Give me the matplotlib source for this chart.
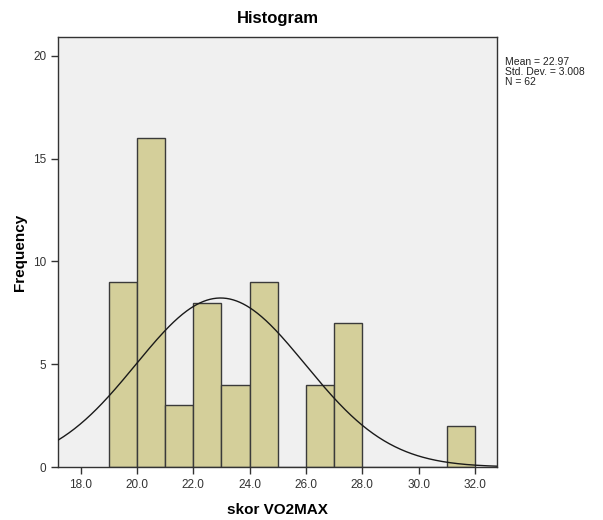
import numpy as np
import matplotlib.pyplot as plt

plt.rcParams['font.family'] = ['Liberation Sans', 'DejaVu Sans']

# data
bin_left = [19, 20, 21, 22, 23, 24, 25, 26, 27, 28, 29, 30, 31]
counts = [9, 16, 3, 8, 4, 9, 0, 4, 7, 0, 0, 0, 2]
bin_width = 1.0
mean = 22.97
sd = 3.008
n = 62

xticks = [18, 20, 22, 24, 26, 28, 30, 32]
yticks = [0, 5, 10, 15, 20]

fig = plt.figure(figsize=(6.03, 5.2), dpi=100)
ax = fig.add_axes([0.0962, 0.1019, 0.7288, 0.8269])
ax.set_facecolor('#f0f0f0')

ax.bar(bin_left, counts, width=bin_width, align='edge', color='#d4cf9a',
       edgecolor='#3a3a3a', linewidth=1.0, zorder=2)

# normal curve fitted to the data (scaled to counts)
x = np.linspace(17.2, 32.8, 400)
y = n * bin_width / (sd * np.sqrt(2 * np.pi)) * np.exp(-0.5 * ((x - mean) / sd) ** 2)
ax.plot(x, y, color='#1a1a1a', linewidth=1.0, zorder=3)

ax.set_xlim(17.2, 32.8)
ax.set_ylim(0, 20.92)
ax.set_xticks(xticks)
ax.set_xticklabels(['%.1f' % v for v in xticks])
ax.set_yticks(yticks)

for s in ax.spines.values():
    s.set_color('#333333')
    s.set_linewidth(1.0)

ax.tick_params(direction='out', length=5, width=1, colors='#333333',
               labelsize=8.5, labelcolor='#333333')
ax.tick_params(top=False, right=False)

ax.set_xlabel('skor VO2MAX', fontsize=11, fontweight='bold', labelpad=9)
ax.set_ylabel('Frequency', fontsize=11, fontweight='bold', labelpad=4)
ax.set_title('Histogram', fontsize=12, fontweight='bold', pad=10)

fig.text(0.837, 0.89, 'Mean = 22.97\nStd. Dev. = 3.008\nN = 62',
         fontsize=7.5, va='top', ha='left', linespacing=1.0, color='#222222')

fig.savefig('out.png', dpi=100)
